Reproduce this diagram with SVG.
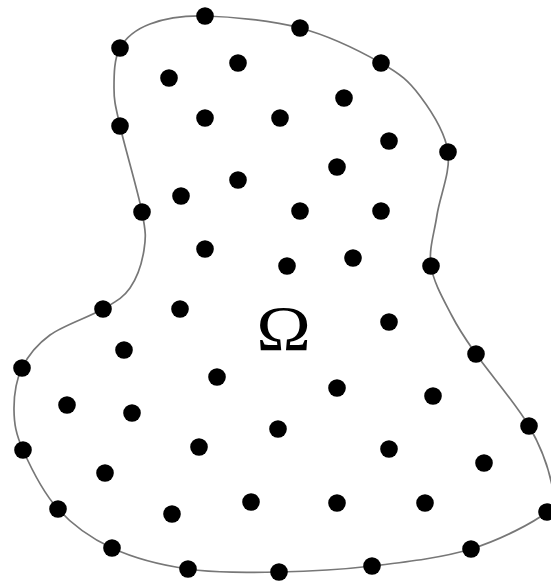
<svg xmlns="http://www.w3.org/2000/svg" width="551" height="583" viewBox="0 0 551 583">
<style>
.b{fill:none;stroke:#777;stroke-width:1.7}
.d{fill:#000}
.t{font-family:"Liberation Serif","Times New Roman",serif;font-size:64px;fill:#000}
</style>
<defs><circle id="p" r="8.8"/></defs>
<rect width="551" height="583" fill="#fff"/>
<g id="connectors">
<path class="b" d="M205,16 C230,16.67 270.67,20.17 300,28 C329.33,35.83 361,51.67 381,63 C401,74.33 408.83,81.17 420,96 C431.17,110.83 445.17,132.17 448,152 C450.83,171.83 439.83,196 437,215 C434.17,234 428.5,249.17 431,266 C433.5,282.83 444.5,301.33 452,316 C459.5,330.67 463.17,335.67 476,354 C488.83,372.33 516.33,404.17 529,426 C541.67,447.83 549,470.67 552,485 C555,499.33 560.5,501.33 547,512 C533.5,522.67 500.17,540 471,549 C441.83,558 404,562.17 372,566 C340,569.83 309.67,571.5 279,572 C248.33,572.5 215.83,573 188,569 C160.17,565 133.67,558 112,548 C90.33,538 72.83,525.33 58,509 C43.17,492.67 30.33,466.5 23,450 C15.67,433.5 14.17,423.67 14,410 C13.83,396.33 16,380.5 22,368 C28,355.5 36.5,344.83 50,335 C63.5,325.17 89.670,316.83 103,309 C116.33,301.17 123.17,297.83 130,288 C136.83,278.17 142,262.67 144,250 C146,237.33 146,232.67 142,212 C138,191.33 124.67,146.67 120,126 C115.33,105.33 114,101 114,88 C114,75 114,58.67 120,48 C126,37.33 135.83,29.33 150,24 C164.17,18.67 180,15.33 205,16 Z"/>
</g>
<g id="boundary-nodes" class="d">
<use href="#p" x="205" y="16"/><use href="#p" x="300" y="28"/><use href="#p" x="381" y="63"/><use href="#p" x="448" y="152"/><use href="#p" x="431" y="266"/><use href="#p" x="476" y="354"/><use href="#p" x="529" y="426"/><use href="#p" x="547" y="512"/><use href="#p" x="471" y="549"/><use href="#p" x="372" y="566"/><use href="#p" x="279" y="572"/><use href="#p" x="188" y="569"/><use href="#p" x="112" y="548"/><use href="#p" x="58" y="509"/><use href="#p" x="23" y="450"/><use href="#p" x="22" y="368"/><use href="#p" x="103" y="309"/><use href="#p" x="142" y="212"/><use href="#p" x="120" y="126"/><use href="#p" x="120" y="48"/>
</g>
<g id="interior-nodes" class="d">
<use href="#p" x="238" y="63"/><use href="#p" x="169" y="78"/><use href="#p" x="344" y="98"/><use href="#p" x="205" y="118"/><use href="#p" x="280" y="118"/><use href="#p" x="389" y="141"/><use href="#p" x="337" y="167"/><use href="#p" x="238" y="180"/><use href="#p" x="181" y="196"/><use href="#p" x="300" y="211"/><use href="#p" x="381" y="211"/><use href="#p" x="205" y="249"/><use href="#p" x="353" y="258"/><use href="#p" x="287" y="266"/><use href="#p" x="180" y="309"/><use href="#p" x="389" y="322"/><use href="#p" x="124" y="350"/><use href="#p" x="217" y="377"/><use href="#p" x="337" y="388"/><use href="#p" x="433" y="396"/><use href="#p" x="67" y="405"/><use href="#p" x="132" y="413"/><use href="#p" x="278" y="429"/><use href="#p" x="199" y="447"/><use href="#p" x="389" y="449"/><use href="#p" x="484" y="463"/><use href="#p" x="105" y="473"/><use href="#p" x="251" y="502"/><use href="#p" x="337" y="503"/><use href="#p" x="425" y="503"/><use href="#p" x="172" y="514"/>
</g>
<g id="label">
<text class="t" transform="translate(283.5,350) scale(1.15,1)" text-anchor="middle">Ω</text>
</g>
</svg>
